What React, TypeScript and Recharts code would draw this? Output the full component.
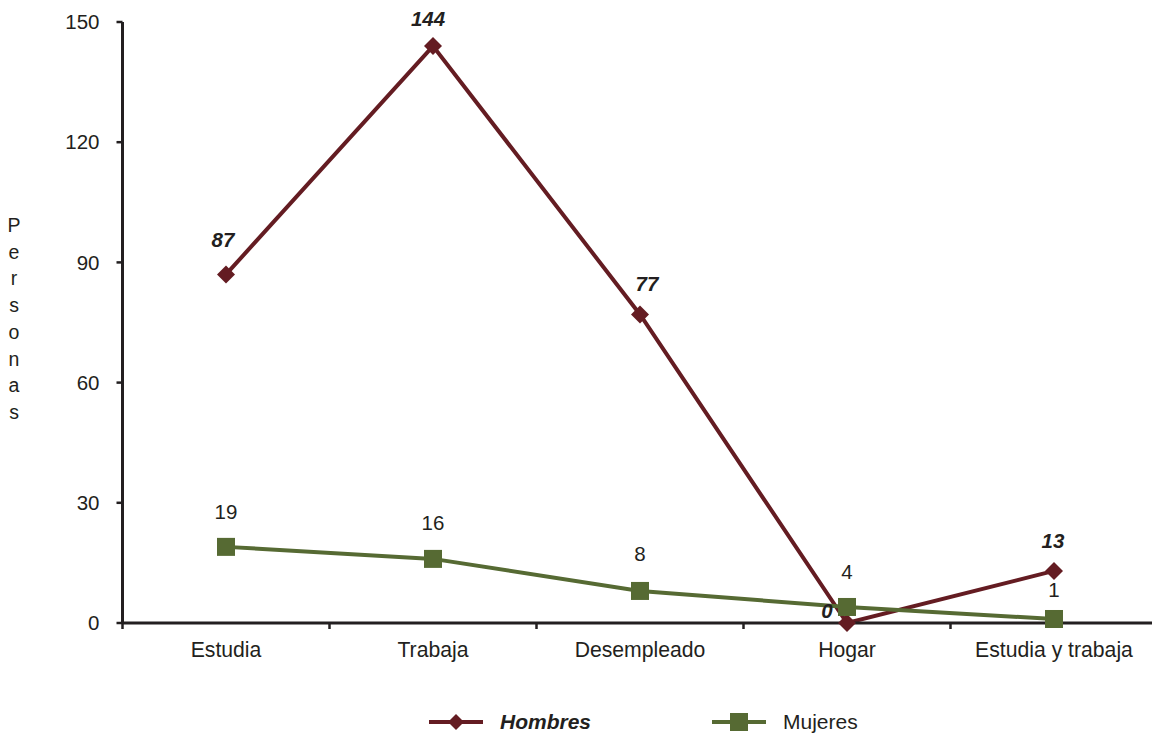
import React from 'react';
import { LineChart, Line, XAxis, YAxis, Legend, LabelList } from 'recharts';

const categories = ['Estudia', 'Trabaja', 'Desempleado', 'Hogar', 'Estudia y trabaja'];
const hombres = [87, 144, 77, 0, 13];
const mujeres = [19, 16, 8, 4, 1];
const yTicks = [0, 30, 60, 90, 120, 150];
const yAxisTitle = 'Personas';
const seriesNames = ['Hombres', 'Mujeres'];

// label placement (pixel offsets from the point), style only
const hombresLabelDx = [-3, -5, 7, -20, -1];
const hombresLabelDy = [-27, -20, -23, -5, -23];
const mujeresLabelDy = [-28, -29, -30, -28, -22];

const data = categories.map((c, i) => ({ category: c, Hombres: hombres[i], Mujeres: mujeres[i] }));

const MAROON = '#641c22';
const GREEN = '#566a33';
const TEXT = '#231f20';
const FONT = '"Liberation Sans", Arial, sans-serif';
const FS = 20.5;

const Diamond = (props: any) => {
  const { cx, cy } = props;
  if (cx == null || cy == null) return null;
  const r = 9;
  return <polygon points={`${cx},${cy - r} ${cx + r},${cy} ${cx},${cy + r} ${cx - r},${cy}`} fill={MAROON} />;
};

const Square = (props: any) => {
  const { cx, cy } = props;
  if (cx == null || cy == null) return null;
  return <rect x={cx - 9} y={cy - 9} width={18} height={18} fill={GREEN} />;
};

const XTick = (props: any) => {
  const { x, y, payload } = props;
  const off = payload && payload.offset != null ? payload.offset : 0;
  return (
    <g>
      <line x1={x - off} y1={y} x2={x - off} y2={y + 6} stroke={TEXT} strokeWidth={2.5} />
      <text x={x} y={y + 34} textAnchor="middle" fontSize={21.2} fill={TEXT} fontFamily={FONT}>
        {payload.value}
      </text>
    </g>
  );
};

const PersonasLabel = () => {
  const letters = yAxisTitle.split('');
  return (
    <text x={14} y={0} textAnchor="middle" fontSize={19.5} fill={TEXT} fontFamily={FONT}>
      {letters.map((ch, i) => (
        <tspan key={i} x={14} y={232 + i * 26.7}>
          {ch}
        </tspan>
      ))}
    </text>
  );
};

const HombresLabel = (props: any) => {
  const { x, y, value, index } = props;
  if (x == null) return null;
  return (
    <text
      x={x + (hombresLabelDx[index] ?? 0)}
      y={y + (hombresLabelDy[index] ?? -23)}
      textAnchor="middle"
      fontSize={FS}
      fontWeight="bold"
      fontStyle="italic"
      fill={TEXT}
      fontFamily={FONT}
    >
      {value}
    </text>
  );
};

const MujeresLabel = (props: any) => {
  const { x, y, value, index } = props;
  if (x == null) return null;
  return (
    <text x={x} y={y + (mujeresLabelDy[index] ?? -28)} textAnchor="middle" fontSize={FS} fill={TEXT} fontFamily={FONT}>
      {value}
    </text>
  );
};

const LegendItem = ({ name, color, square, bold, left }: any) => (
  <div style={{ position: 'absolute', left, top: 0, height: 24, display: 'flex', alignItems: 'center' }}>
    <svg width={54} height={24}>
      <line x1={0} y1={12} x2={54} y2={12} stroke={color} strokeWidth={4} />
      {square ? (
        <rect x={18} y={3} width={18} height={18} fill={color} />
      ) : (
        <polygon points="27,4 35,12 27,20 19,12" fill={color} />
      )}
    </svg>
    <span
      style={{
        marginLeft: 17,
        fontFamily: FONT,
        fontSize: 21,
        color: TEXT,
        fontWeight: bold ? 'bold' : 'normal',
        fontStyle: bold ? 'italic' : 'normal',
        whiteSpace: 'nowrap',
      }}
    >
      {name}
    </span>
  </div>
);

const LegendContent = () => (
  <div style={{ position: 'relative', width: 1152, height: 24 }}>
    <LegendItem name={seriesNames[0]} color={MAROON} bold left={429} />
    <LegendItem name={seriesNames[1]} color={GREEN} square left={712} />
  </div>
);

export default function App() {
  return (
    <div style={{ position: 'absolute', left: 0, top: 0, width: 1152, height: 734, overflow: 'hidden', background: '#fff' }}>
      <LineChart width={1160} height={734} data={data} margin={{ top: 22, right: 2.5, left: 0, bottom: 61 }}>
        <XAxis
          dataKey="category"
          scale="band"
          tick={<XTick />}
          tickLine={false}
          tickSize={0}
          tickMargin={0}
          axisLine={{ stroke: TEXT, strokeWidth: 3 }}
          height={50}
          interval={0}
        />
        <YAxis
          domain={[0, 150]}
          ticks={yTicks}
          interval={0}
          width={122.5}
          tickSize={6}
          tickMargin={17}
          axisLine={{ stroke: TEXT, strokeWidth: 3 }}
          tickLine={{ stroke: TEXT, strokeWidth: 2.5 }}
          tick={{ fontSize: FS, fill: TEXT, fontFamily: FONT }}
          label={{ content: <PersonasLabel /> }}
        />
        <Legend
          layout="horizontal"
          verticalAlign="middle"
          align="center"
          wrapperStyle={{ top: 710, left: 0, width: 1152, height: 24 }}
          content={<LegendContent />}
        />
        <Line
          dataKey="Hombres"
          stroke={MAROON}
          strokeWidth={4}
          dot={<Diamond />}
          activeDot={false}
          isAnimationActive={false}
        >
          <LabelList dataKey="Hombres" content={<HombresLabel />} />
        </Line>
        <Line
          dataKey="Mujeres"
          stroke={GREEN}
          strokeWidth={4}
          dot={<Square />}
          activeDot={false}
          isAnimationActive={false}
        >
          <LabelList dataKey="Mujeres" content={<MujeresLabel />} />
        </Line>
      </LineChart>
    </div>
  );
}
